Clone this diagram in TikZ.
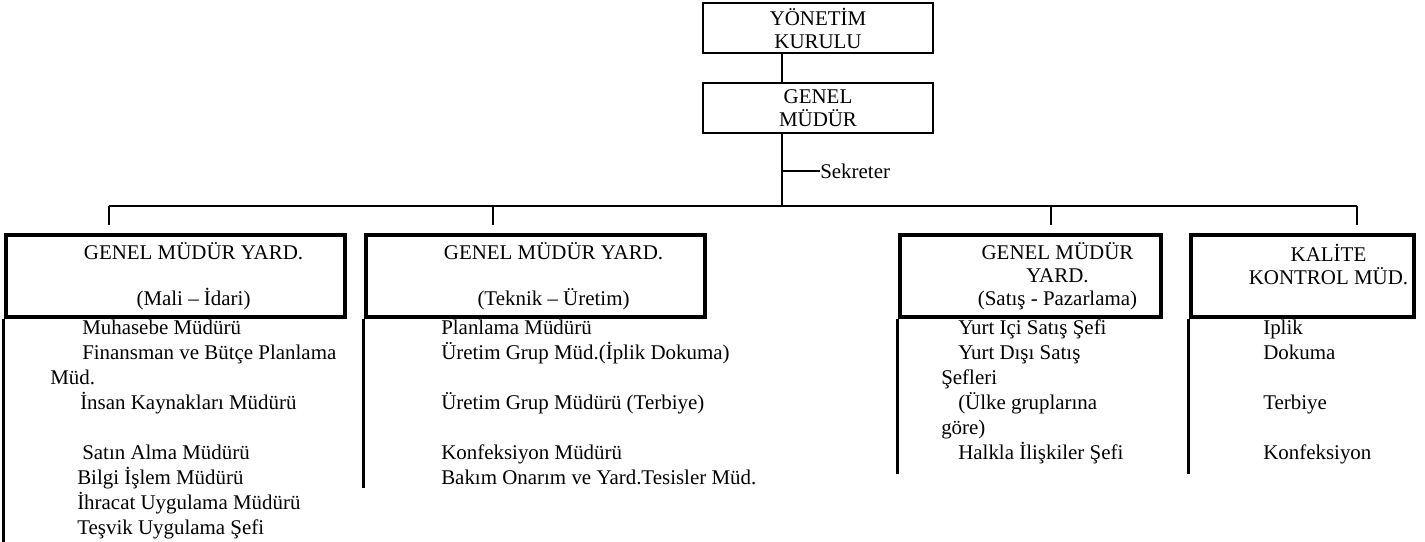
\documentclass[tikz,border=0pt]{standalone}
\usepackage{fontspec}
\setmainfont{Liberation Serif}
\usetikzlibrary{positioning,calc}

\begin{document}
\begin{tikzpicture}[
    x=0.75pt, y=-0.75pt,
    every node/.style={font=\fontsize{15.7}{17.25}\selectfont, inner sep=0pt},
    topbox/.style={draw, line width=1.5pt, minimum width=172.5pt, minimum height=37.5pt, align=center},
    yardbox/.style={draw, line width=3.5pt, minimum height=61.5pt},
    yardtext/.style={align=center},
    conn/.style={line width=0.9pt},
    side/.style={line width=1.8pt},
    item/.style={anchor=base west}
]
\useasboundingbox (0,0) rectangle (1425,542);

\node[topbox] (kurul) at (818,28) {YÖNETİM\\KURULU};
\node[topbox] (genel) at (818,108) {GENEL\\MÜDÜR};

\coordinate (bus) at (782,206);
\coordinate (sekj) at (782,171);
\node[anchor=west] (sek) at (820,171) {Sekreter};
\draw[conn] (kurul.south -| bus) -- (genel.north -| bus);
\draw[conn] (genel.south -| bus) -- (bus);
\draw[conn] (sekj) -- (sek);

\foreach \i/\x in {1/109,2/493,3/1051,4/1357} {
  \coordinate (d\i) at (\x,206);
  \coordinate (e\i) at (\x,225);
  \draw[conn] (d\i) -- (e\i);
}
\draw[conn] (d1) -- (d4);

\node[yardbox, minimum width=254.25pt] (mali) at (175.5,276) {};
\node[yardbox, minimum width=254.25pt] (teknik) at (535.5,276) {};
\node[yardbox, minimum width=195.75pt] (satis) at (1030.5,276) {};
\node[yardbox, minimum width=167.25pt] (kalite) at (1302.5,276) {};
\node[yardtext] (maliT) at ($(mali)+(18,0)$) {GENEL MÜDÜR YARD.\\~\\(Mali – İdari)};
\node[yardtext] (teknikT) at ($(teknik)+(18,0)$) {GENEL MÜDÜR YARD.\\~\\(Teknik – Üretim)};
\node[yardtext] (satisT) at ($(satis)+(27,0)$) {GENEL MÜDÜR\\YARD.\\(Satış - Pazarlama)};
\node[yardtext] (kaliteT) at ($(kalite)+(26,0)$) {KALİTE\\KONTROL MÜD.\\~};

\coordinate (s1) at (0,542);
\coordinate (s2) at (0,488);
\coordinate (s3) at (0,474);
\coordinate (s4) at (0,474);
\draw[side] (mali.south west) -- (mali.south west |- s1);
\draw[side] (teknik.south west) -- (teknik.south west |- s2);
\draw[side] (satis.south west) -- (satis.south west |- s3);
\draw[side] (kalite.south west) -- (kalite.south west |- s4);

\foreach \x/\y/\t [count=\n] in {82/334/Muhasebe Müdürü, 82/359/Finansman ve Bütçe Planlama,
    50/384/Müd., 80/409/İnsan Kaynakları Müdürü, 82/459/Satın Alma Müdürü,
    77/484/Bilgi İşlem Müdürü, 77/509/İhracat Uygulama Müdürü, 77/534/Teşvik Uygulama Şefi}
  \node[item] (mali\n) at (\x,\y) {\t};

\foreach \x/\y/\t [count=\n] in {441/334/Planlama Müdürü, 441/359/Üretim Grup Müd.(İplik Dokuma),
    441/409/Üretim Grup Müdürü (Terbiye), 441/459/Konfeksiyon Müdürü,
    441/484/Bakım Onarım ve Yard.Tesisler Müd.}
  \node[item] (teknik\n) at (\x,\y) {\t};

\foreach \x/\y/\t [count=\n] in {958/334/Yurt İçi Satış Şefi, 958/359/Yurt Dışı Satış,
    941/384/Şefleri, 958/409/(Ülke gruplarına, 941/434/göre), 958/459/Halkla İlişkiler Şefi}
  \node[item] (satis\n) at (\x,\y) {\t};

\foreach \x/\y/\t [count=\n] in {1263/334/İplik, 1263/359/Dokuma, 1263/409/Terbiye, 1263/459/Konfeksiyon}
  \node[item] (kalite\n) at (\x,\y) {\t};
\end{tikzpicture}
\end{document}
